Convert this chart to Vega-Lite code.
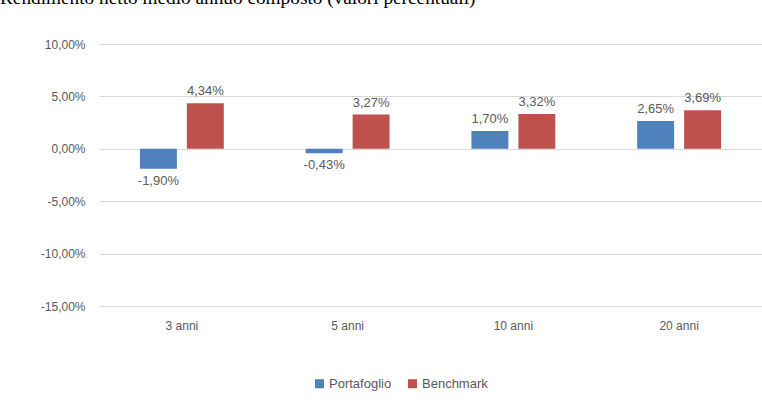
{
  "$schema": "https://vega.github.io/schema/vega-lite/v6.json",
  "width": 663,
  "height": 262,
  "autosize": {"type": "none"},
  "padding": {"left": 99, "top": 44, "right": 0, "bottom": 94},
  "background": "white",
  "title": {
    "text": "Rendimento netto medio annuo composto (valori percentuali)",
    "anchor": "start",
    "frame": "group",
    "font": "Liberation Serif",
    "fontSize": 19.3,
    "fontWeight": "normal",
    "color": "#000000",
    "baseline": "alphabetic",
    "dx": -99,
    "offset": 15
  },
  "data": {
    "values": [
      {"periodo": "3 anni", "serie": "Portafoglio", "valore": -0.0190},
      {"periodo": "3 anni", "serie": "Benchmark", "valore": 0.0434},
      {"periodo": "5 anni", "serie": "Portafoglio", "valore": -0.0043},
      {"periodo": "5 anni", "serie": "Benchmark", "valore": 0.0327},
      {"periodo": "10 anni", "serie": "Portafoglio", "valore": 0.0170},
      {"periodo": "10 anni", "serie": "Benchmark", "valore": 0.0332},
      {"periodo": "20 anni", "serie": "Portafoglio", "valore": 0.0265},
      {"periodo": "20 anni", "serie": "Benchmark", "valore": 0.0369}
    ]
  },
  "encoding": {
    "x": {
      "field": "periodo",
      "type": "nominal",
      "sort": ["3 anni", "5 anni", "10 anni", "20 anni"],
      "scale": {"paddingInner": 0.494, "paddingOuter": 0.247},
      "axis": {
        "title": null,
        "labelAngle": 0,
        "domain": false,
        "ticks": false,
        "labelPadding": 14,
        "labelFont": "Liberation Sans",
        "labelFontSize": 12,
        "labelColor": "#595959"
      }
    },
    "xOffset": {
      "field": "serie",
      "type": "nominal",
      "sort": ["Portafoglio", "Benchmark"],
      "scale": {"paddingInner": 0.213, "paddingOuter": 0}
    },
    "y": {
      "field": "valore",
      "type": "quantitative",
      "scale": {"domain": [-0.15, 0.1], "nice": false},
      "axis": {
        "title": null,
        "values": [-0.15, -0.1, -0.05, 0, 0.05, 0.1],
        "format": ".2%",
        "domain": false,
        "ticks": false,
        "labelPadding": 14,
        "labelFont": "Liberation Sans",
        "labelFontSize": 12,
        "labelColor": "#595959",
        "gridColor": "#D9D9D9",
        "gridWidth": 1
      }
    }
  },
  "layer": [
    {
      "mark": {"type": "bar"},
      "encoding": {
        "color": {
          "field": "serie",
          "type": "nominal",
          "sort": ["Portafoglio", "Benchmark"],
          "scale": {"domain": ["Portafoglio", "Benchmark"], "range": ["#4F81BD", "#C0504D"]},
          "legend": {
            "title": null,
            "orient": "none",
            "direction": "horizontal",
            "legendX": 214,
            "legendY": 333,
            "symbolType": "square",
            "symbolSize": 81,
            "symbolStrokeWidth": 0,
            "labelFont": "Liberation Sans",
            "labelFontSize": 13,
            "labelColor": "#595959",
            "labelOffset": 3,
            "columnPadding": 14
          }
        }
      }
    },
    {
      "transform": [{"filter": "datum.valore >= 0"}],
      "mark": {"type": "text", "baseline": "alphabetic", "dy": -8, "font": "Liberation Sans", "fontSize": 13, "color": "#595959"},
      "encoding": {"text": {"field": "valore", "type": "quantitative", "format": ".2%"}}
    },
    {
      "transform": [{"filter": "datum.valore < 0"}],
      "mark": {"type": "text", "baseline": "top", "dy": 6, "font": "Liberation Sans", "fontSize": 13, "color": "#595959"},
      "encoding": {"text": {"field": "valore", "type": "quantitative", "format": ".2%"}}
    }
  ],
  "config": {
    "view": {"stroke": null},
    "locale": {
      "number": {"decimal": ",", "thousands": ".", "grouping": [3], "currency": ["", " €"], "minus": "-"}
    }
  }
}
